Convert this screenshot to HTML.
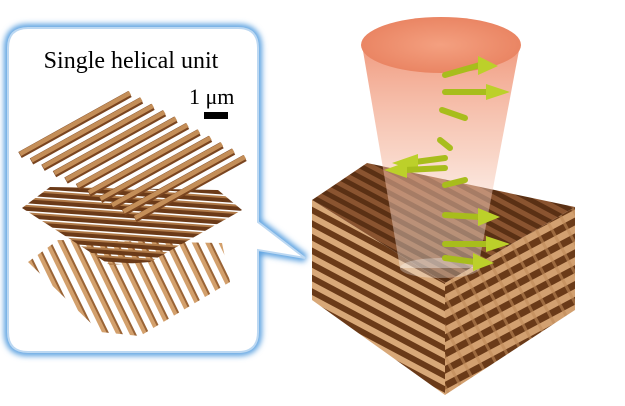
<!DOCTYPE html>
<html><head><style>html,body{margin:0;padding:0;background:#fff;width:625px;height:406px;overflow:hidden}</style></head>
<body>
<svg width="625" height="406" viewBox="0 0 625 406" xmlns="http://www.w3.org/2000/svg">
<defs>
<filter id="blur" x="-20%" y="-20%" width="140%" height="140%"><feGaussianBlur stdDeviation="3"/></filter>
<pattern id="pB" width="7.5" height="7.5" patternUnits="userSpaceOnUse" patternTransform="rotate(4)">
<rect y="0" width="7.5" height="2" fill="#b07a48"/><rect y="2" width="7.5" height="4" fill="#6b3a18"/></pattern>
<pattern id="pC" width="12" height="12" patternUnits="userSpaceOnUse" patternTransform="rotate(64)">
<rect y="0" width="12" height="2" fill="#9a6436"/><rect y="2" width="12" height="4" fill="#d3a06c"/></pattern>
<pattern id="pTop" width="10" height="10" patternUnits="userSpaceOnUse" patternTransform="rotate(28)">
<rect width="10" height="10" fill="#5a3014"/><rect width="10" height="5" fill="#8a5430"/></pattern>
<pattern id="pL" width="12" height="12" patternUnits="userSpaceOnUse" patternTransform="rotate(28)">
<rect width="12" height="12" fill="#d8a878"/><rect width="12" height="6" fill="#6a3a18"/></pattern>
<pattern id="pR" width="14" height="14" patternUnits="userSpaceOnUse" patternTransform="rotate(-28)">
<rect width="14" height="14" fill="#d2a070"/><rect width="14" height="7" fill="#6a3a18"/><rect x="0" width="3" height="14" fill="#c08a58" opacity=".6"/></pattern>
<linearGradient id="cone" x1="0" y1="0" x2="0" y2="1">
<stop offset="0" stop-color="#ee8a6a" stop-opacity=".85"/><stop offset=".5" stop-color="#f4b49a" stop-opacity=".55"/><stop offset="1" stop-color="#fff" stop-opacity=".35"/></linearGradient>
<radialGradient id="top" cx=".5" cy=".5" r=".6"><stop offset="0" stop-color="#f4a080"/><stop offset="1" stop-color="#e8805e"/></radialGradient>
</defs>

<path d="M28,28 H238 Q258,28 258,48 V222 L305,258 L258,250 V332 Q258,352 238,352 H28 Q8,352 8,332 V48 Q8,28 28,28 Z" fill="none" stroke="#5aa0e0" stroke-width="8" filter="url(#blur)"/>
<path d="M28,28 H238 Q258,28 258,48 V222 L305,258 L258,250 V332 Q258,352 238,352 H28 Q8,352 8,332 V48 Q8,28 28,28 Z" fill="#fff" stroke="#bcd8f2" stroke-width="2"/>
<text x="131" y="68" font-family="Liberation Serif, serif" font-size="24" text-anchor="middle">Single helical unit</text>
<text x="189" y="104" font-family="Liberation Serif, serif" font-size="22">1 μm</text>
<rect x="204" y="112" width="24" height="7" fill="#000"/>

<polygon points="28,262 58,240 222,243 230,282 140,336 100,332" fill="url(#pC)"/>
<polygon points="22,208 50,187 218,190 242,210 150,262 110,265" fill="url(#pB)"/>
<g stroke-linecap="butt">
<g stroke="#7a4520" stroke-width="7">
<line x1="20" y1="155" x2="130" y2="94"/><line x1="31.5" y1="161.4" x2="141.5" y2="100.4"/><line x1="43" y1="167.8" x2="153" y2="106.8"/><line x1="54.5" y1="174.2" x2="164.5" y2="113.2"/><line x1="66" y1="180.6" x2="176" y2="119.6"/><line x1="77.5" y1="187" x2="187.5" y2="126"/><line x1="89" y1="193.4" x2="199" y2="132.4"/><line x1="100.5" y1="199.8" x2="210.5" y2="138.8"/><line x1="112" y1="206.2" x2="222" y2="145.2"/><line x1="123.5" y1="212.6" x2="233.5" y2="151.6"/><line x1="135" y1="219" x2="245" y2="158"/>
</g>
<g stroke="#c48e58" stroke-width="4.5">
<line x1="20" y1="154" x2="130" y2="93"/><line x1="31.5" y1="160.4" x2="141.5" y2="99.4"/><line x1="43" y1="166.8" x2="153" y2="105.8"/><line x1="54.5" y1="173.2" x2="164.5" y2="112.2"/><line x1="66" y1="179.6" x2="176" y2="118.6"/><line x1="77.5" y1="186" x2="187.5" y2="125"/><line x1="89" y1="192.4" x2="199" y2="131.4"/><line x1="100.5" y1="198.8" x2="210.5" y2="137.8"/><line x1="112" y1="205.2" x2="222" y2="144.2"/><line x1="123.5" y1="211.6" x2="233.5" y2="150.6"/><line x1="135" y1="218" x2="245" y2="157"/>
</g></g>

<polygon points="312,200 445,283 445,395 312,300" fill="url(#pL)"/>
<polygon points="445,283 575,207 575,310 445,395" fill="url(#pR)"/>
<polygon points="312,200 367,163 575,207 445,283" fill="url(#pTop)"/>

<polygon points="362,45 520,45 478,268 400,268" fill="url(#cone)"/>
<ellipse cx="440" cy="268" rx="40" ry="10" fill="#fff" opacity=".3"/>
<ellipse cx="441" cy="45" rx="80" ry="28" fill="url(#top)"/>

<g stroke="#a8bd1c" stroke-width="6" stroke-linecap="round" fill="#bcd02a">
<line x1="445" y1="75" x2="480" y2="65"/><polygon points="478,56 498,66 478,75" stroke="none"/>
<line x1="445" y1="92" x2="488" y2="92"/><polygon points="486,84 510,92 486,100" stroke="none"/>
<line x1="442" y1="110" x2="465" y2="118"/>
<line x1="440" y1="140" x2="450" y2="148"/>
<line x1="445" y1="158" x2="415" y2="162"/><polygon points="418,154 392,163 418,172" stroke="none"/>
<line x1="445" y1="168" x2="405" y2="170"/><polygon points="407,162 384,170 407,178" stroke="none"/>
<line x1="445" y1="185" x2="465" y2="180"/>
<line x1="445" y1="215" x2="480" y2="217"/><polygon points="478,208 500,217 478,226" stroke="none"/>
<line x1="445" y1="244" x2="488" y2="244"/><polygon points="486,236 510,244 486,252" stroke="none"/>
<line x1="445" y1="258" x2="475" y2="262"/><polygon points="473,253 494,263 473,271" stroke="none"/>
</g>
</svg>
</body></html>
